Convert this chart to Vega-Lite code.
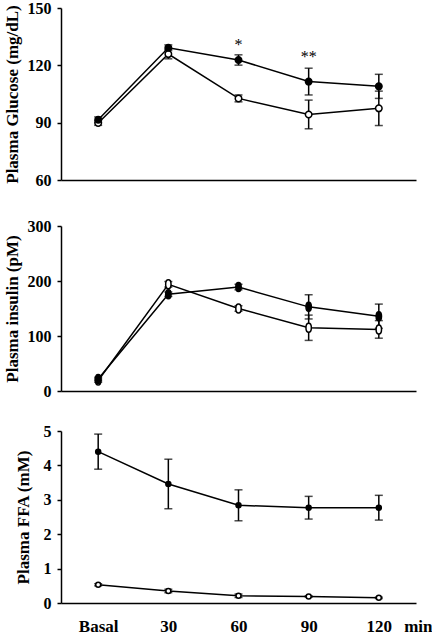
{
  "$schema": "https://vega.github.io/schema/vega-lite/v6.json",
  "autosize": {"type": "pad"},
  "padding": {"left": 2, "top": 0, "right": 0, "bottom": 0},
  "background": "white",
  "datasets": {
    "glucose": [
      {"time": "Basal", "series": "Open", "mean": 89.8, "sem": 1.2},
      {"time": "30", "series": "Open", "mean": 125.9, "sem": 2.5},
      {"time": "60", "series": "Open", "mean": 102.7, "sem": 1.8},
      {"time": "90", "series": "Open", "mean": 94.3, "sem": 7.5},
      {"time": "120", "series": "Open", "mean": 97.5, "sem": 9},
      {"time": "Basal", "series": "Filled", "mean": 91.5, "sem": 1.5},
      {"time": "30", "series": "Filled", "mean": 129.2, "sem": 1.5},
      {"time": "60", "series": "Filled", "mean": 122.8, "sem": 2.7},
      {"time": "90", "series": "Filled", "mean": 111.5, "sem": 7},
      {"time": "120", "series": "Filled", "mean": 109, "sem": 6.3}
    ],
    "insulin": [
      {"time": "Basal", "series": "Open", "mean": 19, "sem": 3},
      {"time": "30", "series": "Open", "mean": 194, "sem": 5},
      {"time": "60", "series": "Open", "mean": 150, "sem": 5},
      {"time": "90", "series": "Open", "mean": 115, "sem": 23},
      {"time": "120", "series": "Open", "mean": 112, "sem": 16},
      {"time": "Basal", "series": "Filled", "mean": 22, "sem": 3},
      {"time": "30", "series": "Filled", "mean": 176, "sem": 4},
      {"time": "60", "series": "Filled", "mean": 189, "sem": 5},
      {"time": "90", "series": "Filled", "mean": 153, "sem": 22},
      {"time": "120", "series": "Filled", "mean": 136, "sem": 22}
    ],
    "ffa": [
      {"time": "Basal", "series": "Open", "mean": 0.53, "sem": 0.03},
      {"time": "30", "series": "Open", "mean": 0.35, "sem": 0.05},
      {"time": "60", "series": "Open", "mean": 0.21, "sem": 0.05},
      {"time": "90", "series": "Open", "mean": 0.19, "sem": 0.02},
      {"time": "120", "series": "Open", "mean": 0.15, "sem": 0.02},
      {"time": "Basal", "series": "Filled", "mean": 4.40, "sem": 0.51},
      {"time": "30", "series": "Filled", "mean": 3.46, "sem": 0.72},
      {"time": "60", "series": "Filled", "mean": 2.84, "sem": 0.45},
      {"time": "90", "series": "Filled", "mean": 2.77, "sem": 0.33},
      {"time": "120", "series": "Filled", "mean": 2.77, "sem": 0.36}
    ],
    "stars": [
      {"time": "60", "y": 128.2, "label": "*"},
      {"time": "90", "y": 121.7, "label": "**"}
    ]
  },
  "bounds": "flush",
  "spacing": 46,
  "vconcat": [
    {
      "width": 355,
      "height": 172,
      "data": {"name": "glucose"},
      "encoding": {
        "x": {"field": "time", "type": "ordinal", "scale": {"type": "point", "padding": 0.53, "domain": ["Basal", "30", "60", "90", "120"]}, "axis": {"labels": false, "ticks": false, "title": null}},
        "y": {"field": "mean", "type": "quantitative", "scale": {"domain": [60, 150], "nice": false, "zero": false}, "axis": {"values": [60, 90, 120, 150], "title": "Plasma Glucose (mg/dL)", "titleX": -49, "titleBaseline": "middle"}}
      },
      "layer": [
        {"mark": {"type": "line", "color": "black", "strokeWidth": 1.5}, "encoding": {"detail": {"field": "series"}}},
        {"mark": {"type": "errorbar", "color": "black", "thickness": 1.5, "ticks": {"size": 8, "thickness": 1.5}}, "encoding": {"yError": {"field": "sem"}}},
        {"mark": {"type": "point", "shape": "circle", "filled": true, "size": 42, "stroke": "black", "strokeWidth": 1.5, "opacity": 1}, "encoding": {"fill": {"field": "series", "type": "nominal", "scale": {"domain": ["Open", "Filled"], "range": ["white", "black"]}, "legend": null}}},
        {"data": {"name": "stars"}, "mark": {"type": "text", "font": "Liberation Serif", "fontSize": 16, "baseline": "alphabetic", "fill": "black", "color": "black"}, "encoding": {"y": {"field": "y", "type": "quantitative", "axis": {"title": "Plasma Glucose (mg/dL)"}}, "text": {"field": "label"}}}
      ]
    },
    {
      "bounds": "flush",
      "spacing": 40,
      "vconcat": [
        {
          "width": 355,
          "height": 165,
          "data": {"name": "insulin"},
          "encoding": {
            "x": {"field": "time", "type": "ordinal", "scale": {"type": "point", "padding": 0.53, "domain": ["Basal", "30", "60", "90", "120"]}, "axis": {"labels": false, "ticks": false, "title": null}},
            "y": {"field": "mean", "type": "quantitative", "scale": {"domain": [0, 300], "nice": false}, "axis": {"values": [0, 100, 200, 300], "title": "Plasma insulin (pM)", "titleX": -49, "titleBaseline": "middle"}}
          },
          "layer": [
            {"mark": {"type": "line", "color": "black", "strokeWidth": 1.5}, "encoding": {"detail": {"field": "series"}}},
            {"mark": {"type": "errorbar", "color": "black", "thickness": 1.5, "ticks": {"size": 8, "thickness": 1.5}}, "encoding": {"yError": {"field": "sem"}}},
            {"mark": {"type": "point", "shape": "M0,-1A0.6,1 0 1,1 0,1A0.6,1 0 1,1 0,-1Z", "filled": true, "size": 81, "stroke": "black", "strokeWidth": 1.5, "opacity": 1}, "encoding": {"fill": {"field": "series", "type": "nominal", "scale": {"domain": ["Open", "Filled"], "range": ["white", "black"]}, "legend": null}}}
          ]
        },
        {
          "width": 355,
          "height": 172,
          "data": {"name": "ffa"},
          "encoding": {
            "x": {"field": "time", "type": "ordinal", "scale": {"type": "point", "padding": 0.53, "domain": ["Basal", "30", "60", "90", "120"]}, "axis": {"labels": true, "ticks": false, "labelAngle": 0, "labelPadding": 15, "labelFontSize": 17, "title": "min", "titleX": 371, "titleY": 15, "titleAlign": "right", "titleBaseline": "top", "titleAnchor": "end"}},
            "y": {"field": "mean", "type": "quantitative", "scale": {"domain": [0, 5], "nice": false}, "axis": {"values": [0, 1, 2, 3, 4, 5], "title": "Plasma FFA (mM)", "titleX": -37.5, "titleBaseline": "middle"}}
          },
          "layer": [
            {"mark": {"type": "line", "color": "black", "strokeWidth": 1.5}, "encoding": {"detail": {"field": "series"}}},
            {"mark": {"type": "errorbar", "color": "black", "thickness": 1.5, "ticks": {"size": 8, "thickness": 1.5}}, "encoding": {"yError": {"field": "sem"}}},
            {"mark": {"type": "point", "shape": "circle", "filled": true, "size": 25, "stroke": "black", "strokeWidth": 1.5, "opacity": 1}, "encoding": {"fill": {"field": "series", "type": "nominal", "scale": {"domain": ["Open", "Filled"], "range": ["white", "black"]}, "legend": null}}}
          ]
        }
      ]
    }
  ],
  "config": {
    "view": {"stroke": null},
    "font": "Liberation Serif",
    "axis": {
      "domainColor": "black",
      "domainWidth": 1.5,
      "tickColor": "black",
      "tickWidth": 1.5,
      "tickSize": 4,
      "labelPadding": 6,
      "grid": false,
      "labelFont": "Liberation Serif",
      "labelFontWeight": "bold",
      "labelFontSize": 16,
      "labelColor": "black",
      "titleFont": "Liberation Serif",
      "titleFontWeight": "bold",
      "titleFontSize": 17,
      "titleColor": "black"
    }
  }
}
